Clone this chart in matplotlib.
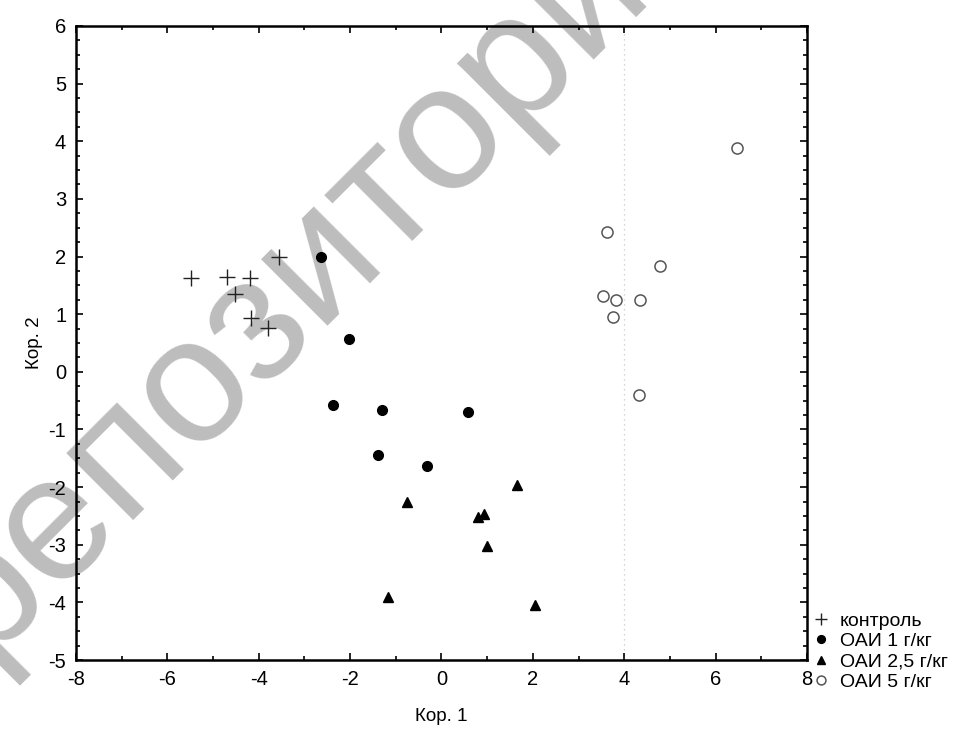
import matplotlib
matplotlib.use("Agg")
import matplotlib.pyplot as plt
from matplotlib.ticker import MultipleLocator

plt.rcParams['font.family'] = ['Liberation Sans', 'DejaVu Sans']
plt.rcParams['axes.unicode_minus'] = False

# ---- data ----
control_x = [-5.48, -4.70, -4.20, -3.56, -4.53, -4.16, -3.80]
control_y = [1.63, 1.65, 1.63, 1.99, 1.35, 0.93, 0.76]

oai1_x = [-2.63, -2.03, -2.37, -1.30, 0.59, -1.39, -0.32]
oai1_y = [2.00, 0.57, -0.57, -0.67, -0.70, -1.44, -1.63]

oai25_x = [1.65, -0.76, 0.92, 0.81, 0.99, -1.17, 2.04]
oai25_y = [-1.96, -2.25, -2.47, -2.52, -3.03, -3.90, -4.04]

oai5_x = [6.47, 3.62, 4.78, 3.53, 3.83, 4.35, 3.75, 4.32]
oai5_y = [3.88, 2.43, 1.84, 1.32, 1.25, 1.25, 0.95, -0.40]

labels = ["контроль", "ОАИ 1 г/кг", "ОАИ 2,5 г/кг", "ОАИ 5 г/кг"]
x_ticks = [-8, -6, -4, -2, 0, 2, 4, 6, 8]
y_ticks = [-5, -4, -3, -2, -1, 0, 1, 2, 3, 4, 5, 6]

fig = plt.figure(figsize=(9.79, 7.34), dpi=100)
ax = fig.add_axes([0.0776, 0.1008, 0.7467, 0.8638])
ax.set_facecolor('none')

# watermark (behind everything)
fig.text(0.326, 0.652, "репозиторий", fontsize=128, color='#bdbdbd',
         rotation=45, ha='center', va='center', rotation_mode='anchor',
         zorder=-5)

ax.axvline(4.0, color='#c8c8c8', lw=0.9, ls=(0, (1, 3)), zorder=1)

h1, = ax.plot(control_x, control_y, ls='none', marker='+', ms=11, mew=1.0,
              color='#222222', label=labels[0], zorder=3)
h2, = ax.plot(oai1_x, oai1_y, ls='none', marker='o', ms=7, color='black',
              label=labels[1], zorder=3)
h3, = ax.plot(oai25_x, oai25_y, ls='none', marker='^', ms=7.5, color='black',
              label=labels[2], zorder=3)
h4, = ax.plot(oai5_x, oai5_y, ls='none', marker='o', ms=8, mfc='white',
              mec='#555555', mew=1.1, label=labels[3], zorder=3)

ax.set_xlim(-8, 8)
ax.set_ylim(-5, 6)
ax.set_xticks(x_ticks)
ax.set_yticks(y_ticks)
ax.xaxis.set_minor_locator(MultipleLocator(1))
ax.yaxis.set_minor_locator(MultipleLocator(0.25))
ax.tick_params(which='both', direction='in', top=True, right=True,
               labelsize=14.5, width=1.2)
ax.tick_params(which='major', length=5, pad=7)
ax.tick_params(which='minor', length=3)
for s in ax.spines.values():
    s.set_linewidth(1.8)

ax.set_xlabel("Кор. 1", fontsize=13.5, labelpad=14)
ax.set_ylabel("Кор. 2", fontsize=13.5, labelpad=4)

fig.legend(handles=[h1, h2, h3, h4], loc='upper left',
           bbox_to_anchor=(0.832, 0.166), frameon=False, fontsize=14,
           handlelength=0.7, handletextpad=0.6, labelspacing=0.14,
           markerscale=0.8, borderaxespad=0, borderpad=0)

fig.savefig("out.png", dpi=100)
